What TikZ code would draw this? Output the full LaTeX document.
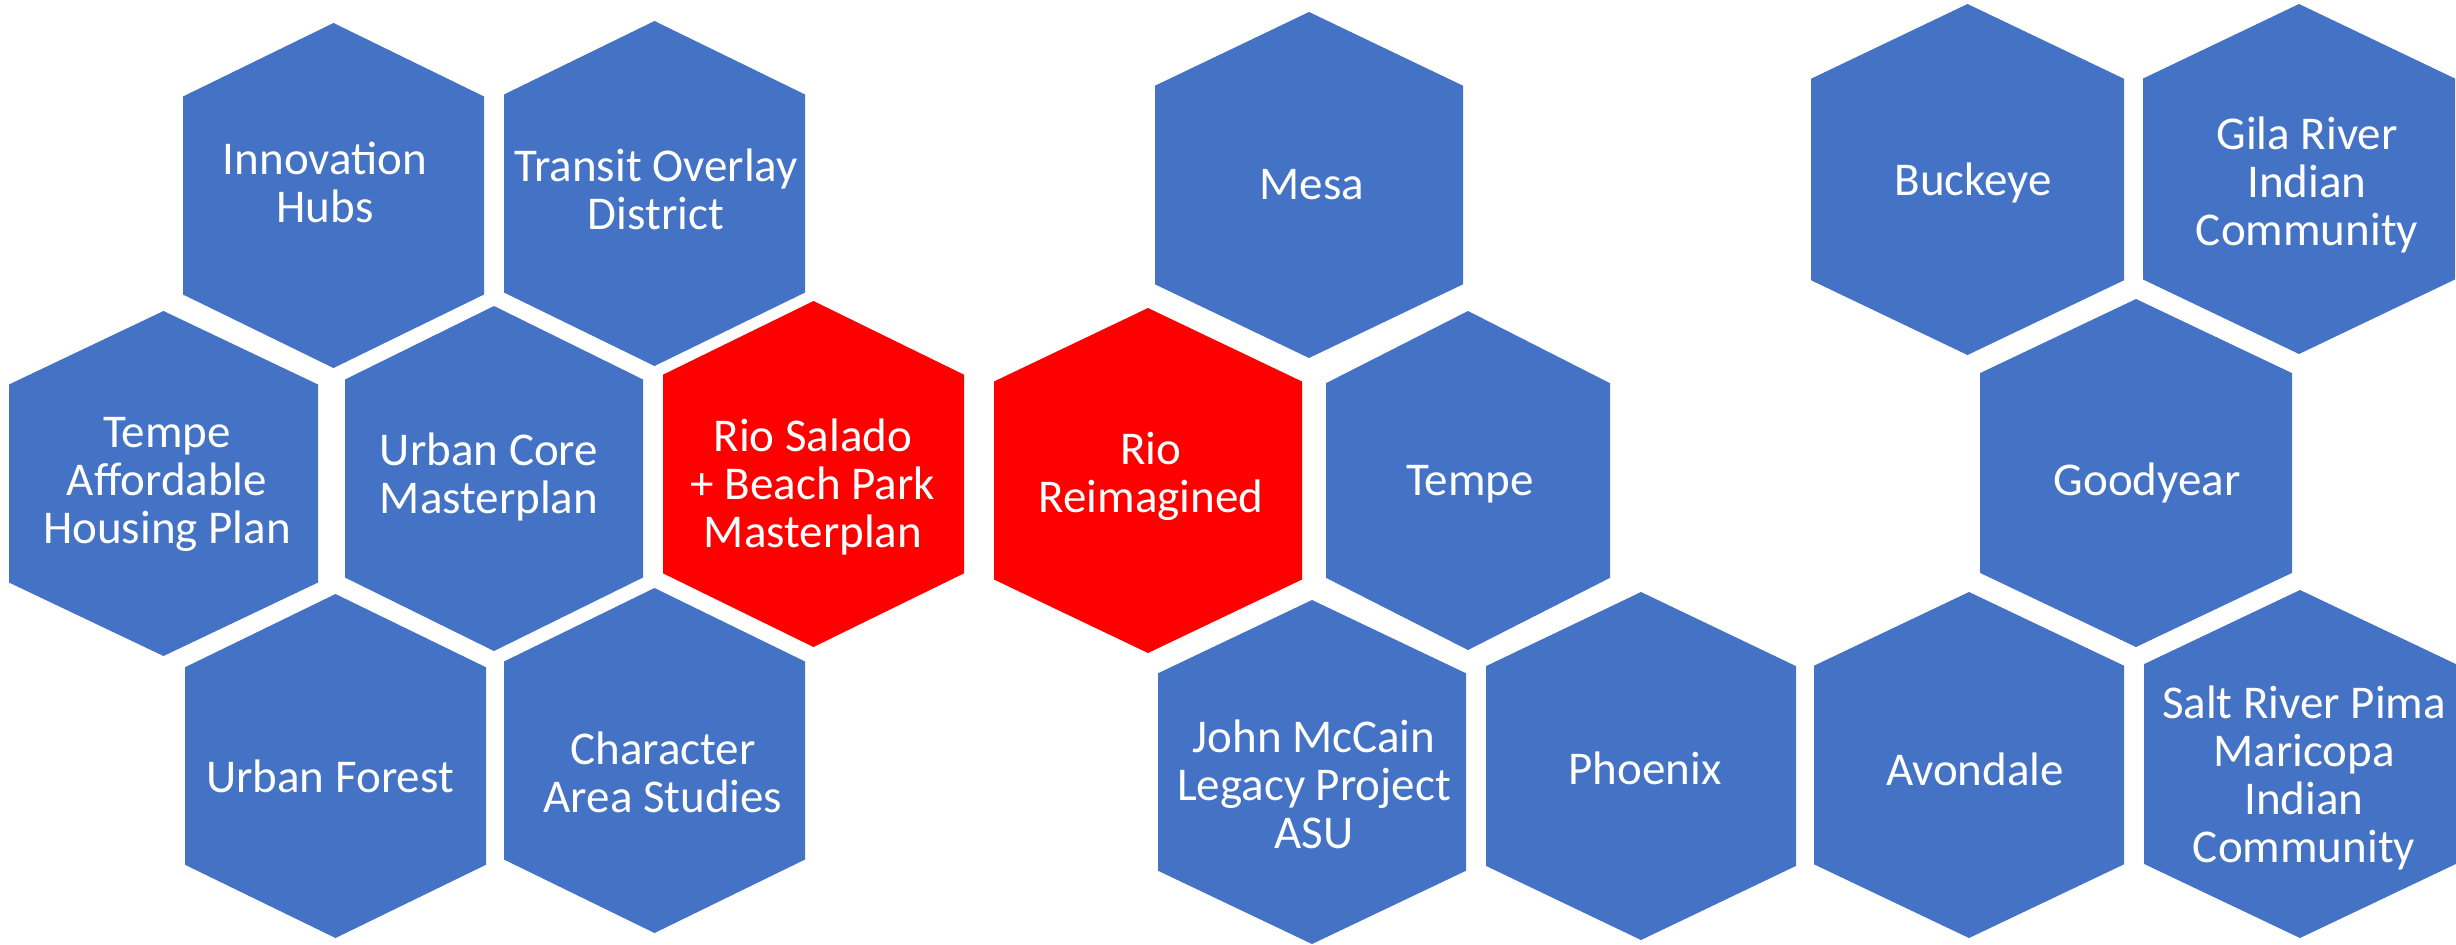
\documentclass[tikz,border=0pt]{standalone}
\usepackage{fontspec}
\setmainfont{Carlito}
\definecolor{hexblue}{HTML}{4472C4}
\definecolor{hexred}{HTML}{FF0000}
\newcommand\hexa[5]{%
  \fill[#5] ({(#1+#2)/2},#3) -- (#2,{#3+0.213*(#4-#3)}) -- (#2,{#4-0.213*(#4-#3)})
    -- ({(#1+#2)/2},#4) -- (#1,{#4-0.213*(#4-#3)}) -- (#1,{#3+0.213*(#4-#3)}) -- cycle;}
\tikzset{
  lbl/.style={text=white, align=center, inner sep=0pt, font=\fontsize{23.5}{24}\selectfont},
}
\begin{document}
\begin{tikzpicture}[x=0.5pt,y=-0.5pt]
\useasboundingbox (0,0) rectangle (2456,944);
% hexagons
\hexa{183}{484}{23}{368}{hexblue}
\hexa{504}{805}{21}{366}{hexblue}
\hexa{9}{318}{311}{656}{hexblue}
\hexa{345}{643}{306}{651}{hexblue}
\hexa{663}{964}{301}{647}{hexred}
\hexa{185}{486}{594}{938}{hexblue}
\hexa{504}{805}{588}{933}{hexblue}
\hexa{994}{1302}{308}{653}{hexred}
\hexa{1155}{1463}{12}{358}{hexblue}
\hexa{1326}{1610}{311}{650}{hexblue}
\hexa{1158}{1466}{600}{944}{hexblue}
\hexa{1486}{1796}{592}{940}{hexblue}
\hexa{1811}{2124}{4}{355}{hexblue}
\hexa{2143}{2455}{4}{354}{hexblue}
\hexa{1980}{2292}{299}{647}{hexblue}
\hexa{1814}{2124}{592}{938}{hexblue}
\hexa{2144}{2456}{590}{938}{hexblue}
% labels
\node[lbl] (inno) at (325,182) {Innovation\\Hubs};
\node[lbl] (transit) at (656,189) {Transit Overlay\\District};
\node[lbl] (tempeaff) at (167,484) {Tempe\\Affordable\\Housing Plan};
\node[lbl] (urbancore) at (489,477) {Urban Core\\Masterplan};
\node[lbl] (riosalado) at (813,487) {Rio Salado\\+ Beach Park\\Masterplan};
\node[lbl] (urbanforest) at (330,776) {Urban Forest};
\node[lbl] (character) at (663,772) {Character\\Area Studies};
\node[lbl] (rioreim) at (1151,476) {Rio\\Reimagined};
\node[lbl] (mesa) at (1312,185) {Mesa};
\node[lbl] (tempe) at (1470,484) {Tempe};
\node[lbl] (mccain) at (1314,784) {John McCain\\Legacy Project\\ASU};
\node[lbl] (phoenix) at (1645,768) {Phoenix};
\node[lbl] (buckeye) at (1973,183) {Buckeye};
\node[lbl] (gila) at (2307,185) {Gila River\\Indian\\Community};
\node[lbl] (goodyear) at (2147,483) {Goodyear};
\node[lbl] (avondale) at (1975,769) {Avondale};
\node[lbl] (saltriver) at (2304,778) {Salt River Pima\\Maricopa\\Indian\\Community};
\end{tikzpicture}
\end{document}
